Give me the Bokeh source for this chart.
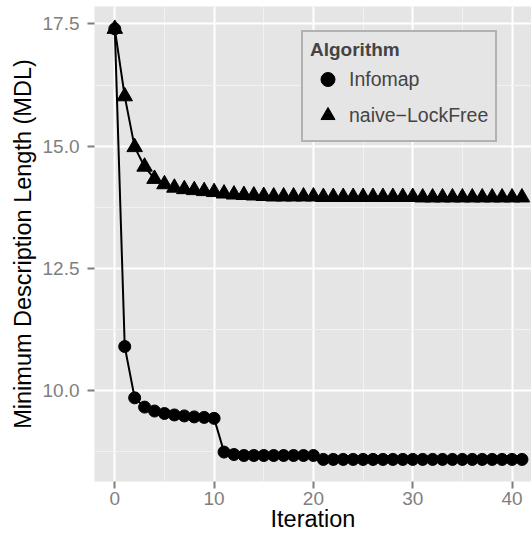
from bokeh.plotting import figure
from bokeh.models import Range1d, Legend, LegendItem, FixedTicker, PrintfTickFormatter, ColumnDataSource
from bokeh.embed import file_html
from bokeh.resources import INLINE

# ---- data ----
iteration = list(range(0, 42))
infomap = [17.40, 10.90, 9.85, 9.66, 9.58, 9.53, 9.50, 9.48, 9.46, 9.45, 9.43,
           8.74, 8.69, 8.67, 8.67, 8.67, 8.67, 8.67, 8.67, 8.67, 8.67,
           8.59, 8.59, 8.59, 8.59, 8.59, 8.59, 8.59, 8.59, 8.59, 8.59, 8.59,
           8.59, 8.59, 8.59, 8.59, 8.59, 8.59, 8.59, 8.59, 8.59, 8.59]
naive_lockfree = [17.40, 16.02, 14.98, 14.58, 14.33, 14.22, 14.15, 14.12, 14.10, 14.08,
                  14.06, 14.03, 14.01, 14.00, 13.99, 13.98,
                  13.97, 13.97, 13.97, 13.97, 13.97,
                  13.96, 13.96, 13.96, 13.96, 13.96, 13.96, 13.96, 13.96, 13.96, 13.96,
                  13.95, 13.95, 13.95, 13.95, 13.95, 13.95, 13.95, 13.95, 13.95, 13.95, 13.95]
series_names = ["Infomap", "naive\u2212LockFree"]
x_ticks = [0, 10, 20, 30, 40]
x_minor = [5, 15, 25, 35]
y_ticks = [10.0, 12.5, 15.0, 17.5]
y_minor = [8.75, 11.25, 13.75, 16.25]

FONT = "Liberation Sans"
GREY = "#7f7f7f"

src = ColumnDataSource(dict(it=iteration, info=infomap, naive=naive_lockfree))

p = figure(width=531, height=538,
           x_range=Range1d(-2.044, 41.96), y_range=Range1d(8.138, 17.858),
           output_backend="svg", toolbar_location=None,
           min_border_left=94, min_border_right=0, min_border_top=6, min_border_bottom=57,
           background_fill_color="#e5e5e5", border_fill_color="white",
           outline_line_color=None)

# grid
p.xaxis.ticker = FixedTicker(ticks=x_ticks, minor_ticks=x_minor)
p.yaxis.ticker = FixedTicker(ticks=y_ticks, minor_ticks=y_minor)
p.yaxis.formatter = PrintfTickFormatter(format="%.1f")
for g in (p.xgrid, p.ygrid):
    g.grid_line_color = "white"
    g.grid_line_width = 2
    g.minor_grid_line_color = "#f2f2f2"
    g.minor_grid_line_width = 1

# axes
for ax in (p.xaxis, p.yaxis):
    ax.axis_line_color = None
    ax.major_tick_line_color = GREY
    ax.major_tick_line_width = 2
    ax.major_tick_out = 7
    ax.major_tick_in = 0
    ax.minor_tick_line_color = None
    ax.major_label_text_font = FONT
    ax.major_label_text_font_size = "19px"
    ax.major_label_text_color = GREY
    ax.axis_label_text_font = FONT
    ax.axis_label_text_font_size = "23.5px"
    ax.axis_label_text_font_style = "normal"
    ax.axis_label_text_color = "black"
p.xaxis.major_label_standoff = 3
p.yaxis.major_label_standoff = 8
p.xaxis.axis_label = "Iteration"
p.xaxis.axis_label_standoff = -2
p.yaxis.axis_label = "Minimum Description Length (MDL)"
p.yaxis.axis_label_standoff = 4

# lines and points
p.line("it", "info", source=src, line_color="black", line_width=2)
p.line("it", "naive", source=src, line_color="black", line_width=2)
r_info = p.scatter("it", "info", source=src, marker="circle", size=12,
                   fill_color="black", line_color="black")
r_naive = p.scatter("it", "naive", source=src, marker="triangle", size=15.5,
                    fill_color="black", line_color="black")

legend = Legend(items=[LegendItem(label=series_names[0], renderers=[r_info]),
                       LegendItem(label=series_names[1], renderers=[r_naive])],
                location=(207, 339), title="Algorithm",
                title_text_font=FONT, title_text_font_style="bold",
                title_text_font_size="19px", title_standoff=0,
                label_text_font=FONT, label_text_font_size="19.5px",
                glyph_width=35, glyph_height=36, label_height=36,
                spacing=0, padding=7, margin=0, label_standoff=4,
                border_line_color=GREY, border_line_width=2,
                background_fill_color="#e5e5e5", background_fill_alpha=1)
p.add_layout(legend)

open("out.html", "w").write(file_html(p, INLINE))
